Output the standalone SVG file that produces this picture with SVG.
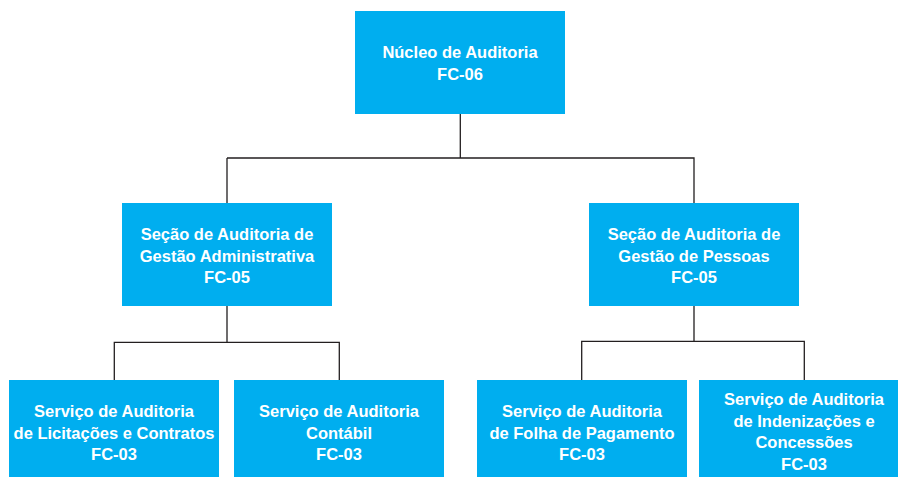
<svg xmlns="http://www.w3.org/2000/svg" width="898" height="477" viewBox="0 0 898 477">
<style>
.box{fill:#00aeef}
.t{font-family:"Liberation Sans",Arial,sans-serif;font-weight:bold;font-size:16.5px;fill:#fff;text-anchor:middle}
.c{fill:none;stroke:#231f20;stroke-width:1.3}
</style>
<rect width="898" height="477" fill="#fff"/>
<g id="connectors">
<path class="c" d="M460.3,114V158M227,158H694V203M227,158V203"/>
<path class="c" d="M227,306V342.3M114.3,380V342.3H339.3V380"/>
<path class="c" d="M694,306V341.3M581.7,380V341.3H804.3V380"/>
</g>
<g id="nucleo">
<rect class="box" x="355" y="11" width="210" height="103"/>
<text class="t" x="460" y="58">Núcleo de Auditoria</text>
<text class="t" x="460" y="80">FC-06</text>
</g>
<g id="secao-adm">
<rect class="box" x="122" y="203" width="210" height="103"/>
<text class="t" x="227" y="240">Seção de Auditoria de</text>
<text class="t" x="227" y="261.5">Gestão Administrativa</text>
<text class="t" x="227" y="283">FC-05</text>
</g>
<g id="secao-pessoas">
<rect class="box" x="589" y="203" width="210" height="103"/>
<text class="t" x="694" y="240">Seção de Auditoria de</text>
<text class="t" x="694" y="261.5">Gestão de Pessoas</text>
<text class="t" x="694" y="283">FC-05</text>
</g>
<g id="servico-licitacoes">
<rect class="box" x="9" y="380" width="210" height="100"/>
<text class="t" x="114" y="417">Serviço de Auditoria</text>
<text class="t" x="114" y="438.5">de Licitações e Contratos</text>
<text class="t" x="114" y="459.5">FC-03</text>
</g>
<g id="servico-contabil">
<rect class="box" x="234" y="380" width="210" height="100"/>
<text class="t" x="339" y="417">Serviço de Auditoria</text>
<text class="t" x="339" y="438.5">Contábil</text>
<text class="t" x="339" y="459.5">FC-03</text>
</g>
<g id="servico-folha">
<rect class="box" x="477" y="380" width="210" height="100"/>
<text class="t" x="582" y="417">Serviço de Auditoria</text>
<text class="t" x="582" y="438.5">de Folha de Pagamento</text>
<text class="t" x="582" y="459.5">FC-03</text>
</g>
<g id="servico-indenizacoes">
<rect class="box" x="699" y="380" width="210" height="100"/>
<text class="t" x="804" y="405">Serviço de Auditoria</text>
<text class="t" x="804" y="426.5">de Indenizações e</text>
<text class="t" x="804" y="448">Concessões</text>
<text class="t" x="804" y="469.5">FC-03</text>
</g>
</svg>
